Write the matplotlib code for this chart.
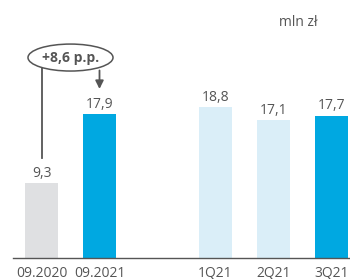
import matplotlib.pyplot as plt
from matplotlib.patches import Ellipse

categories = ['09.2020', '09.2021', '1Q21', '2Q21', '3Q21']
values = [9.3, 17.9, 18.8, 17.1, 17.7]
labels = ['9,3', '17,9', '18,8', '17,1', '17,7']
positions = [0, 1, 3, 4, 5]
colors = ['#dfe0e2', '#00a8e1', '#daeef8', '#daeef8', '#00a8e1']
change_label = '+8,6 p.p.'
unit_label = 'mln zł'

TXT = '#555555'
plt.rcParams['font.family'] = ['Open Sans', 'DejaVu Sans']


def main():
    fig = plt.figure(figsize=(3.5, 2.79), dpi=100)
    ax = fig.add_axes([0, 21 / 279, 1, 258 / 279])
    ax.set_xlim(-41.5 / 58, (350 - 41.5) / 58)
    ax.set_ylim(0, 258 / 8.05)
    ax.axis('off')

    ax.bar(positions, values, width=33 / 58, color=colors)
    ax.plot([-0.49, 5.4], [0, 0], color=TXT, lw=1, clip_on=False)

    for x, v, lab, cat in zip(positions, values, labels, categories):
        ax.text(x, v + 0.75, lab, ha='center', va='baseline', fontsize=10, color=TXT)
        # category labels sit partly below the figure edge, as in the source
        ax.text(x, -2.36, cat, ha='center', va='baseline', fontsize=10, color=TXT,
                clip_on=False)

    # change bubble
    ax.add_patch(Ellipse((0.5, 24.9), 1.466, 3.35, facecolor='white',
                         edgecolor=TXT, lw=1.1))
    ax.text(0.5, 24.9, change_label, ha='center', va='center', fontsize=10,
            fontweight='bold', color=TXT)
    ax.plot([0, 0], [23.55, 12.4], color=TXT, lw=1.3)
    ax.annotate('', xy=(1, 21.0), xytext=(1, 23.3),
                arrowprops=dict(arrowstyle='-|>', color=TXT, lw=1.3,
                                mutation_scale=12, shrinkA=0, shrinkB=0))

    ax.text(4.42, 29.3, unit_label, ha='center', va='center', fontsize=10, color=TXT)

    fig.savefig('out.png', dpi=100)


if __name__ == '__main__':
    main()
